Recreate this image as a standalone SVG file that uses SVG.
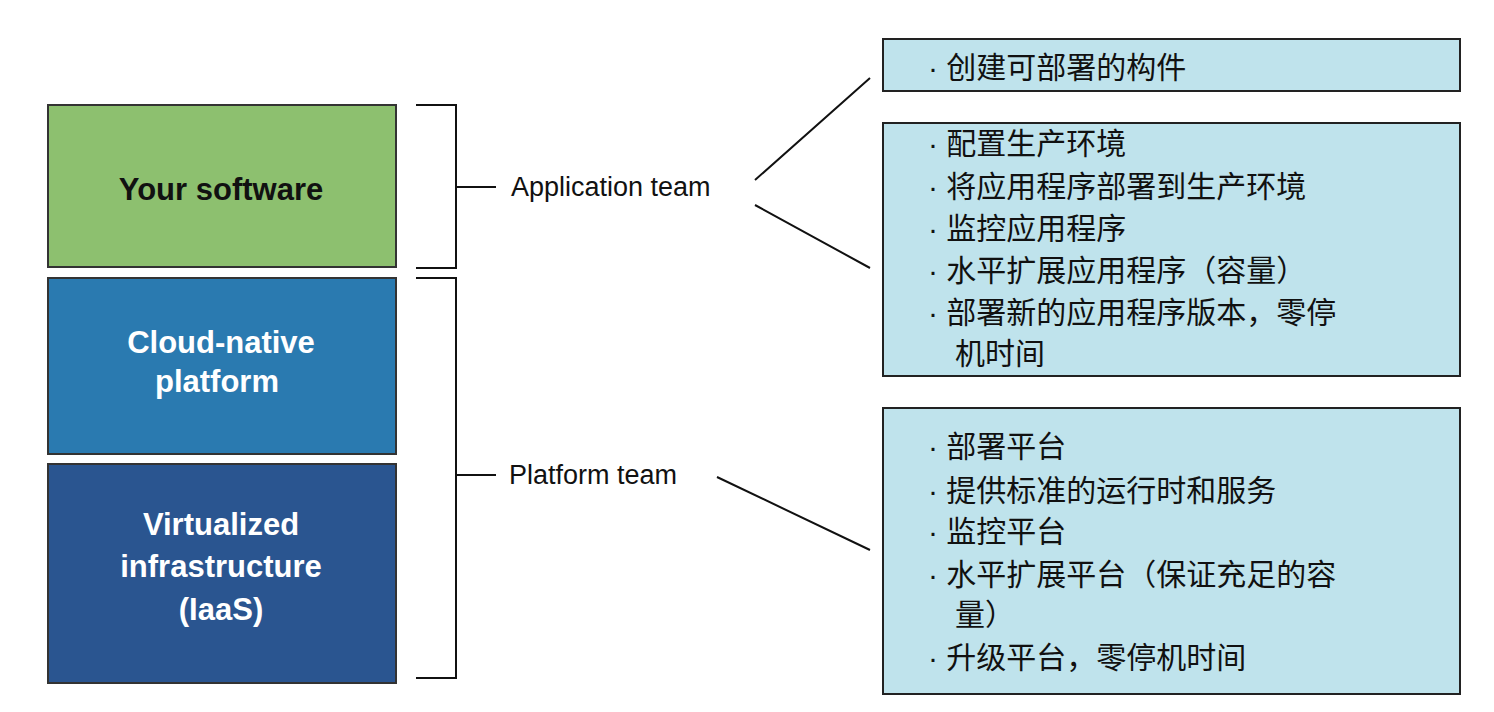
<svg xmlns="http://www.w3.org/2000/svg" width="1494" height="712" viewBox="0 0 1494 712">
<style>
.lay{stroke:#333;stroke-width:2}
.lt{font-family:"Liberation Sans",Arial,sans-serif;font-weight:bold;font-size:31px;text-anchor:middle}
.tm{font-family:"Liberation Sans",Arial,sans-serif;font-size:27px;fill:#111}
.bx{fill:#bfe3ec;stroke:#222;stroke-width:2}
.cn{font-family:"Liberation Sans","Noto Sans CJK SC",sans-serif;font-size:30px;fill:#111}
.ln{stroke:#111;stroke-width:2;fill:none}
</style>
<rect width="1494" height="712" fill="#fff"/>
<g id="your-software"><rect class="lay" x="48" y="105" width="348" height="162" fill="#8dc06f"/><text class="lt" x="221" y="200" fill="#111">Your software</text></g>
<g id="cloud-native"><rect class="lay" x="48" y="278" width="348" height="176" fill="#2a7ab0"/><text class="lt" x="221" y="353" fill="#fff">Cloud-native</text><text class="lt" x="217" y="392" fill="#fff">platform</text></g>
<g id="iaas"><rect class="lay" x="48" y="464" width="348" height="219" fill="#2a5590"/><text class="lt" x="221" y="535" fill="#fff">Virtualized</text><text class="lt" x="221" y="577" fill="#fff">infrastructure</text><text class="lt" x="221" y="620" fill="#fff">(IaaS)</text></g>
<g id="application-team"><text class="tm" x="511" y="196">Application team</text></g>
<g id="platform-team"><text class="tm" x="509" y="484">Platform team</text></g>
<g id="box1"><rect class="bx" x="883" y="39" width="577" height="52"/><text class="cn" x="928" y="78">· 创建可部署的构件</text></g>
<g id="box2"><rect class="bx" x="883" y="123" width="577" height="253"/>
<text class="cn" x="928" y="154">· 配置生产环境</text>
<text class="cn" x="928" y="197">· 将应用程序部署到生产环境</text>
<text class="cn" x="928" y="239">· 监控应用程序</text>
<text class="cn" x="928" y="281">· 水平扩展应用程序（容量）</text>
<text class="cn" x="928" y="323">· 部署新的应用程序版本，零停</text>
<text class="cn" x="955" y="364">机时间</text></g>
<g id="box3"><rect class="bx" x="883" y="408" width="577" height="286"/>
<text class="cn" x="928" y="457">· 部署平台</text>
<text class="cn" x="928" y="501">· 提供标准的运行时和服务</text>
<text class="cn" x="928" y="542">· 监控平台</text>
<text class="cn" x="928" y="585">· 水平扩展平台（保证充足的容</text>
<text class="cn" x="955" y="625">量）</text>
<text class="cn" x="928" y="668">· 升级平台，零停机时间</text></g>
<g id="connectors">
<path class="ln" d="M416 105H456V268H416M456 187H496"/>
<path class="ln" d="M416 278H456V678H416M456 475H496"/>
<path class="ln" d="M755 180L870 78M755 205L870 268M717 477L870 550"/>
</g>
</svg>
